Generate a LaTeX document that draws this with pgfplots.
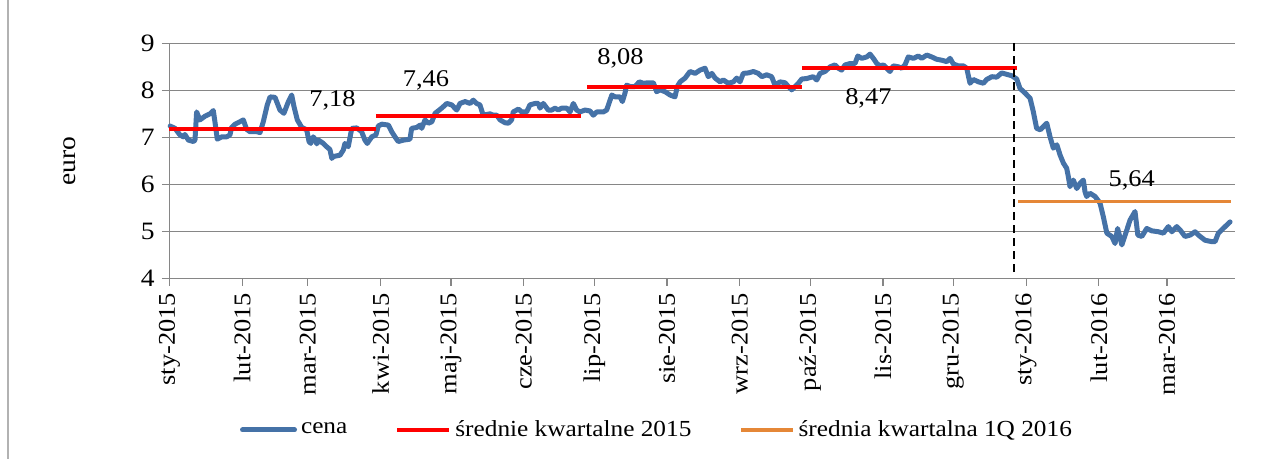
\documentclass[border=0pt]{standalone}
\usepackage{fontspec}
\setmainfont{Liberation Serif}[FakeStretch=1.1]
\usepackage{pgfplots}
\pgfplotsset{compat=1.18}
\definecolor{cblue}{RGB}{69,114,167}
\definecolor{cred}{RGB}{255,0,0}
\definecolor{corange}{RGB}{229,135,55}
\definecolor{cgrid}{RGB}{134,134,134}
\begin{document}
\begin{tikzpicture}
\begin{axis}[
  at={(0,0)}, anchor=south west,
  scale only axis, width=532.8pt, height=117.5pt,
  xmin=0, xmax=454, ymin=4, ymax=9,
  axis x line*=bottom, axis y line*=left,
  axis line style={cgrid, line width=0.6pt, -},
  ymajorgrids, grid style={cgrid, line width=0.6pt},
  xtick={0,31,59,90,120,151,181,212,243,273,304,334,365,396,425},
  xticklabels={sty-2015,lut-2015,mar-2015,kwi-2015,maj-2015,cze-2015,lip-2015,sie-2015,wrz-2015,paź-2015,lis-2015,gru-2015,sty-2016,lut-2016,mar-2016},
  ytick={4,5,6,7,8,9},
  tick align=outside, major tick length=3.8pt,
  tick style={cgrid, line width=0.6pt},
  xticklabel style={rotate=90, anchor=east, font=\fontsize{12}{14}\selectfont},
  yticklabel style={font=\fontsize{12.5}{15}\selectfont},
  /pgf/number format/assume math mode=true,
  clip=false,
  legend columns=3,
  legend style={at={(rel axis cs:0.4585,-0.6455)}, anchor=center, draw=none,
    font=\fontsize{11.5}{13}\selectfont,
    /tikz/every even column/.append style={column sep=22pt}},
  legend cell align=left,
  legend image code/.code={\draw[#1] (0pt,0pt) -- (26pt,0pt);},
]
\addplot[cblue, line width=2.5pt, line join=round, line cap=round] coordinates {
(0.3,7.24)(2.4,7.19)(4.5,7.05)(5.9,7.01)(6.6,7.06)(8.1,6.94)(10.2,6.91)(10.9,6.94)
(11.6,7.54)(13.0,7.37)(15.2,7.45)(17.3,7.50)(18.7,7.57)(19.4,7.33)(20.4,6.96)
(22.3,7.01)(24.4,7.01)(25.8,7.05)(26.5,7.21)(28,7.28)(30,7.33)(31.5,7.37)
(32.9,7.17)(34.3,7.12)(37.2,7.12)(38.6,7.10)(40,7.33)(41.7,7.69)(42.9,7.86)
(45,7.85)(47.1,7.58)(48.8,7.51)(50.7,7.76)(52.1,7.90)(53.1,7.65)(54.5,7.37)
(56.4,7.21)(58.5,7.16)(59.5,6.91)(60.2,6.87)(61.3,7.01)(62,6.96)(62.8,6.86)
(63.5,6.94)(65.6,6.87)(67,6.80)(68.4,6.74)(69.2,6.55)(69.8,6.59)(72.7,6.62)
(74.1,6.73)(74.8,6.87)(76.2,6.80)(77.7,7.19)(79.8,7.20)(81.9,7.12)(83.3,6.94)
(84.3,6.87)(86.2,7.01)(88,7.05)(89,7.24)(90.5,7.28)(93.3,7.26)(94.7,7.12)
(96.1,7.01)(97.5,6.91)(99.7,6.94)(102.5,6.96)(103.2,7.19)(105.4,7.21)(106.8,7.26)
(107.5,7.19)(108.9,7.37)(110.3,7.30)(111.8,7.33)(113.2,7.51)(116,7.62)(118.2,7.72)
(120.3,7.69)(122.4,7.58)(123.8,7.72)(126,7.76)(128.1,7.72)(129.5,7.79)(130.9,7.72)
(132.3,7.69)(133.7,7.47)(136.6,7.50)(138,7.47)(139.5,7.47)(140.9,7.37)(143,7.31)
(144.4,7.30)(145.8,7.37)(146.5,7.54)(148.7,7.60)(150.1,7.54)(152.2,7.54)(153.6,7.69)
(155.8,7.72)(157.2,7.72)(157.9,7.62)(159.3,7.72)(161.4,7.58)(162.9,7.58)(164.3,7.62)
(165.7,7.58)(167.1,7.62)(169.3,7.62)(170.7,7.54)(172.1,7.72)(173.5,7.58)(174.9,7.54)
(177.1,7.58)(179.2,7.56)(180.6,7.47)(182.1,7.54)(184.9,7.54)(186.3,7.58)(188.5,7.90)
(189.9,7.86)(192,7.86)(193,7.76)(194.1,7.94)(194.8,8.11)(196.3,8.08)(198.4,8.08)
(200.2,8.18)(201.9,8.15)(204,8.16)(206.2,8.16)(207.6,7.97)(209,8.01)(211.2,7.97)
(213.3,7.90)(215.4,7.86)(216.4,8.08)(217.6,8.18)(219.7,8.26)(221.8,8.40)(224,8.36)
(226.1,8.43)(228.2,8.47)(229.6,8.29)(231.1,8.36)(232.5,8.26)(234.6,8.18)(236,8.22)
(238.1,8.15)(240.3,8.18)(241.7,8.26)(243.1,8.18)(244.5,8.36)(246.7,8.37)(248.8,8.40)
(250.9,8.36)(252.4,8.29)(254.5,8.33)(256.6,8.29)(258,8.11)(260.2,8.18)(262.3,8.16)
(263.7,8.08)(265.1,8.01)(266.6,8.08)(268,8.15)(269.4,8.24)(271.5,8.25)(274.3,8.29)
(275.8,8.22)(277.2,8.36)(279.3,8.40)(281.5,8.50)(283.6,8.54)(285,8.47)(286.4,8.43)
(287.9,8.54)(290,8.57)(292.1,8.57)(293.3,8.73)(295,8.68)(297.1,8.71)(298.5,8.77)
(299.9,8.68)(301.4,8.57)(302.8,8.52)(304.2,8.54)(305.6,8.47)(307,8.40)(308.4,8.52)
(310.6,8.50)(312,8.47)(313.4,8.54)(314.8,8.71)(317,8.68)(319.1,8.73)(320.5,8.68)
(322.7,8.75)(324.8,8.71)(326.9,8.66)(329.1,8.64)(331.2,8.61)(332.6,8.68)(334,8.56)
(336.1,8.52)(338.3,8.52)(339.7,8.47)(341.1,8.15)(342.5,8.23)(344.7,8.18)(346.8,8.15)
(348.2,8.23)(350.4,8.29)(352.5,8.28)(354.6,8.37)(356,8.35)(358.9,8.31)(361,8.24)
(362.4,8.04)(364.6,7.94)(366.7,7.83)(368.1,7.54)(369.5,7.19)(371,7.16)(372.4,7.23)
(373.8,7.30)(375.2,7.01)(376.6,6.77)(378.1,6.84)(379.5,6.62)(380.9,6.45)(382.3,6.34)
(383,6.16)(383.7,5.95)(385.1,6.09)(386.6,5.91)(388,6.02)(389.4,6.09)(390.1,5.84)
(390.8,5.74)(392.2,5.81)(394.4,5.74)(396.5,5.60)(397.9,5.31)(399.4,4.96)(401.5,4.89)
(402.9,4.74)(404,5.06)(405.8,4.71)(407.2,4.92)(409.3,5.24)(411.4,5.42)(412.6,4.92)
(414.3,4.89)(416.4,5.06)(418.5,5.01)(421.4,4.99)(423.5,4.96)(425.6,5.10)(427.1,4.99)
(429.2,5.10)(430.6,5.03)(432.7,4.89)(434.9,4.92)(437,4.99)(438.4,4.92)(441.2,4.81)
(444.1,4.78)(445.5,4.78)(446.9,4.96)(449.8,5.10)(451.9,5.20)
};
\addlegendentry{cena}
\addplot[cred, line width=2pt] coordinates {(0,7.18)(88,7.18)};
\addlegendentry{średnie kwartalne 2015}
\addplot[corange, line width=1.6pt] coordinates {(361.5,5.64)(452.5,5.64)};
\addlegendentry{średnia kwartalna 1Q 2016}
\addplot[cred, line width=2pt, forget plot] coordinates {(88,7.46)(175.5,7.46)};
\addplot[cred, line width=2pt, forget plot] coordinates {(178,8.08)(269.5,8.08)};
\addplot[cred, line width=2pt, forget plot] coordinates {(269.7,8.47)(361,8.47)};
\addplot[black, line width=0.9pt, dash pattern=on 4pt off 2.5pt, forget plot] coordinates {(360,4.13)(360,9.07)};
\node[font=\fontsize{12}{14}\selectfont] at (axis cs:69.5,7.79) {7,18};
\node[font=\fontsize{12}{14}\selectfont] at (axis cs:109.3,8.22) {7,46};
\node[font=\fontsize{12}{14}\selectfont] at (axis cs:192.2,8.68) {8,08};
\node[font=\fontsize{12}{14}\selectfont] at (axis cs:297.8,7.83) {8,47};
\node[font=\fontsize{12}{14}\selectfont] at (axis cs:410,6.09) {5,64};
\node[rotate=90, font=\fontsize{12.5}{15}\selectfont] at ([xshift=-49.7pt]rel axis cs:0,0.5) {euro};
\end{axis}
\pgfresetboundingbox
\path[use as bounding box] (-84.7pt,-90.35pt) rectangle (556.3pt,139.15pt);
\draw[gray!60, line width=0.6pt] (-80.7pt,-90.35pt) -- (-80.7pt,139.15pt);
\end{tikzpicture}
\end{document}
